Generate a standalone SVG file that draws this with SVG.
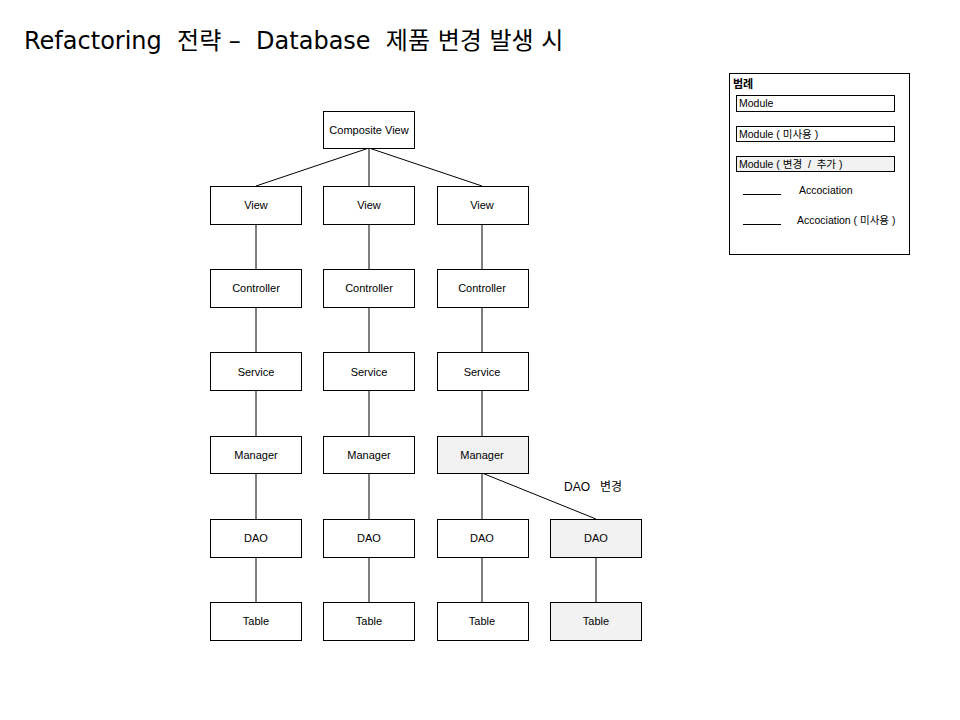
<svg xmlns="http://www.w3.org/2000/svg" width="960" height="720" viewBox="0 0 960 720">
<style>
text{white-space:pre}
.b{fill:#fff;stroke:#000;stroke-width:1}
.g{fill:#f2f2f2;stroke:#000;stroke-width:1}
.t{font-family:"Liberation Sans","Noto Sans CJK KR",sans-serif;font-size:11px;fill:#000;text-anchor:middle}
.lt{font-family:"Liberation Sans","Noto Sans CJK KR",sans-serif;font-size:10.5px;fill:#000}
.c line{stroke:#000;stroke-width:1}
</style>
<rect width="960" height="720" fill="#fff"/>
<text x="24" y="49" font-family="DejaVu Sans, 'Noto Sans CJK KR', sans-serif" font-size="24" fill="#000" xml:space="preserve">Refactoring  전략 –  Database  제품 변경 발생 시</text>
<g class="c" id="connectors">
<line x1="369" y1="148" x2="256" y2="186"/>
<line x1="369" y1="148" x2="369" y2="186"/>
<line x1="369" y1="148" x2="482" y2="186"/>
<line x1="256" y1="224" x2="256" y2="269"/>
<line x1="369" y1="224" x2="369" y2="269"/>
<line x1="482" y1="224" x2="482" y2="269"/>
<line x1="256" y1="307" x2="256" y2="352"/>
<line x1="369" y1="307" x2="369" y2="352"/>
<line x1="482" y1="307" x2="482" y2="352"/>
<line x1="256" y1="390" x2="256" y2="436"/>
<line x1="369" y1="390" x2="369" y2="436"/>
<line x1="482" y1="390" x2="482" y2="436"/>
<line x1="256" y1="473" x2="256" y2="519"/>
<line x1="369" y1="473" x2="369" y2="519"/>
<line x1="482" y1="473" x2="482" y2="519"/>
<line x1="482" y1="473" x2="596" y2="519"/>
<line x1="256" y1="557" x2="256" y2="602"/>
<line x1="369" y1="557" x2="369" y2="602"/>
<line x1="482" y1="557" x2="482" y2="602"/>
<line x1="596" y1="557" x2="596" y2="602"/>
</g>
<text x="564" y="491" font-family="'Liberation Sans','Noto Sans CJK KR',sans-serif" font-size="12" fill="#000" xml:space="preserve">DAO   변경</text>
<g id="composite"><rect class="b" x="323.5" y="111.5" width="91" height="37"/><text class="t" x="369" y="134">Composite View</text></g>
<g id="view1"><rect class="b" x="210.5" y="186.5" width="91" height="38"/><text class="t" x="256" y="209">View</text></g>
<g id="view2"><rect class="b" x="323.5" y="186.5" width="91" height="38"/><text class="t" x="369" y="209">View</text></g>
<g id="view3"><rect class="b" x="437.5" y="186.5" width="91" height="38"/><text class="t" x="482" y="209">View</text></g>
<g id="ctrl1"><rect class="b" x="210.5" y="269.5" width="91" height="38"/><text class="t" x="256" y="292">Controller</text></g>
<g id="ctrl2"><rect class="b" x="323.5" y="269.5" width="91" height="38"/><text class="t" x="369" y="292">Controller</text></g>
<g id="ctrl3"><rect class="b" x="437.5" y="269.5" width="91" height="38"/><text class="t" x="482" y="292">Controller</text></g>
<g id="svc1"><rect class="b" x="210.5" y="352.5" width="91" height="38"/><text class="t" x="256" y="376">Service</text></g>
<g id="svc2"><rect class="b" x="323.5" y="352.5" width="91" height="38"/><text class="t" x="369" y="376">Service</text></g>
<g id="svc3"><rect class="b" x="437.5" y="352.5" width="91" height="38"/><text class="t" x="482" y="376">Service</text></g>
<g id="mgr1"><rect class="b" x="210.5" y="436.5" width="91" height="37"/><text class="t" x="256" y="459">Manager</text></g>
<g id="mgr2"><rect class="b" x="323.5" y="436.5" width="91" height="37"/><text class="t" x="369" y="459">Manager</text></g>
<g id="mgr3"><rect class="g" x="437.5" y="436.5" width="91" height="37"/><text class="t" x="482" y="459">Manager</text></g>
<g id="dao1"><rect class="b" x="210.5" y="519.5" width="91" height="38"/><text class="t" x="256" y="542">DAO</text></g>
<g id="dao2"><rect class="b" x="323.5" y="519.5" width="91" height="38"/><text class="t" x="369" y="542">DAO</text></g>
<g id="dao3"><rect class="b" x="437.5" y="519.5" width="91" height="38"/><text class="t" x="482" y="542">DAO</text></g>
<g id="dao4"><rect class="g" x="550.5" y="519.5" width="91" height="38"/><text class="t" x="596" y="542">DAO</text></g>
<g id="tbl1"><rect class="b" x="210.5" y="602.5" width="91" height="38"/><text class="t" x="256" y="625">Table</text></g>
<g id="tbl2"><rect class="b" x="323.5" y="602.5" width="91" height="38"/><text class="t" x="369" y="625">Table</text></g>
<g id="tbl3"><rect class="b" x="437.5" y="602.5" width="91" height="38"/><text class="t" x="482" y="625">Table</text></g>
<g id="tbl4"><rect class="g" x="550.5" y="602.5" width="91" height="38"/><text class="t" x="596" y="625">Table</text></g>
<g id="legend">
<rect class="b" x="729.5" y="73.5" width="180" height="181"/>
<text x="733" y="88" font-family="'Liberation Sans','Noto Sans CJK KR',sans-serif" font-size="11" font-weight="bold" fill="#000">범례</text>
<rect class="b" x="736.5" y="95.5" width="158" height="16"/>
<text class="lt" x="739" y="107">Module</text>
<rect class="b" x="736.5" y="126.5" width="158" height="15"/>
<text class="lt" x="739" y="138" xml:space="preserve">Module ( 미사용 )</text>
<rect class="g" x="736.5" y="156.5" width="158" height="15"/>
<text class="lt" x="739" y="168" xml:space="preserve">Module ( 변경  /  추가 )</text>
<line x1="743" y1="194.5" x2="781" y2="194.5" stroke="#000"/>
<text class="lt" x="799" y="194">Accociation</text>
<line x1="743" y1="224.5" x2="781" y2="224.5" stroke="#000"/>
<text class="lt" x="797" y="224" xml:space="preserve">Accociation ( 미사용 )</text>
</g>
</svg>
